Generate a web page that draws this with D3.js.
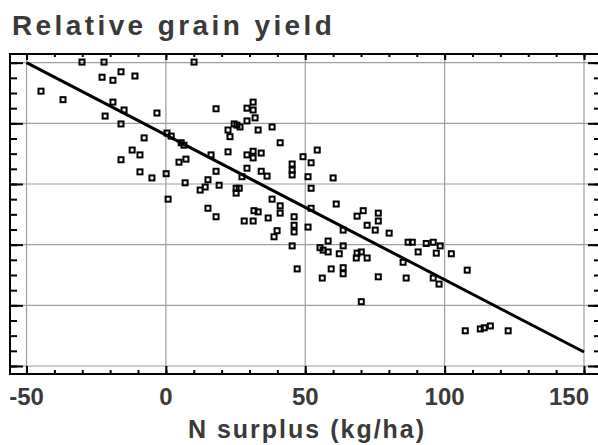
<!DOCTYPE html>
<html>
<head>
<meta charset="utf-8">
<script src="https://cdn.jsdelivr.net/npm/d3@7"></script>
<style>
  html, body { margin: 0; padding: 0; background: #fff; }
  svg { display: block; }
  text { font-family: "Liberation Sans", Arial, sans-serif; font-weight: bold; fill: #3a3a3a; }
</style>
</head>
<body>
<svg id="chart" width="598" height="445"></svg>
<script>
// ---- Data ----
const title = "Relative grain yield";
const xTitle = "N surplus (kg/ha)";
const xTickValues = [-50, 0, 50, 100, 150];
const xTickLabels = ["-50", "0", "50", "100", "150"];
const yGridValues = [50, 60, 70, 80, 90, 100];

const nSurplus = [
  -30.1, -22.2, 10.1, -22.9, -19.0, -16.1, -11.1, -44.8, -36.9, -19.0,
  -15.0, -21.8, -16.1, -3.2, -12.1, -9.3, -16.1, -9.3, 0.4, 1.9,
  5.5, 6.5, -7.8, -5.0, 0.1, 4.7, 7.2, 6.9, 0.8, 18.0,
  31.3, 29.1, 31.3, 32.0, 29.1, 24.5, 25.5, 26.6, 22.3, 23.0,
  33.1, 38.1, 41.0, 16.2, 22.3, 29.1, 31.3, 34.2, 31.3, 18.0,
  29.1, 34.2, 36.3, 27.3, 15.1, 19.1, 12.3, 14.1, 25.2, 26.3,
  25.2, 15.1, 18.0, 28.1, 31.3, 31.6, 45.3, 45.3, 45.3, 49.2,
  52.1, 54.3, 51.0, 52.1, 60.0, 38.1, 41.0, 41.0, 33.1, 36.7,
  46.0, 46.0, 46.0, 39.9, 38.8, 51.0, 52.1, 61.1, 68.6, 70.8,
  76.2, 76.2, 72.2, 75.1, 80.1, 63.6, 58.2, 45.3, 55.3, 56.4,
  58.2, 63.6, 62.2, 68.6, 70.1, 72.2, 68.3, 47.1, 59.3, 56.1,
  63.6, 63.6, 76.2, 70.1, 86.9, 88.4, 90.5, 93.4, 95.9, 98.4,
  97.0, 102.4, 85.1, 108.1, 86.2, 95.9, 98.0, 107.4, 112.8, 114.2,
  116.4, 122.8
];
const relYield = [
  100.1, 100.1, 100.1, 97.6, 97.1, 98.5, 97.8, 95.3, 93.9, 93.5,
  92.2, 91.2, 89.9, 91.7, 85.6, 84.8, 84.0, 82.0, 88.4, 87.9,
  86.8, 86.4, 87.6, 81.0, 81.7, 83.6, 84.1, 80.2, 77.5, 92.4,
  93.5, 92.5, 92.2, 90.9, 90.4, 89.9, 89.7, 89.4, 88.9, 87.8,
  88.9, 89.4, 86.8, 84.8, 85.3, 84.8, 85.4, 85.1, 84.3, 82.1,
  82.6, 82.1, 81.3, 81.2, 80.7, 79.8, 79.0, 79.5, 79.3, 79.3,
  78.5, 76.0, 74.6, 73.9, 73.9, 75.6, 83.3, 82.3, 81.5, 84.5,
  83.5, 85.6, 81.2, 79.3, 81.0, 77.5, 76.4, 75.2, 75.4, 74.4,
  74.6, 73.2, 72.1, 72.3, 71.3, 72.9, 76.0, 76.7, 74.7, 75.6,
  75.2, 73.9, 73.2, 72.4, 71.9, 72.4, 70.6, 69.8, 69.5, 69.1,
  68.8, 69.8, 68.5, 68.6, 68.8, 67.8, 67.8, 66.0, 66.0, 64.5,
  66.2, 65.2, 64.7, 60.6, 70.4, 70.4, 68.8, 70.2, 70.4, 69.8,
  68.6, 68.5, 67.1, 65.8, 64.5, 64.5, 63.5, 55.8, 56.1, 56.3,
  56.6, 55.8
];
// regression line end points
const fitX = [-50, 150];
const fitY = [100, 52.3];

// ---- Layout ----
const svg = d3.select("#chart");
const pLeft = 10, pRight = 599, pTop = 54, pBottom = 374;

const x = d3.scaleLinear().domain([-55.92, 155.38]).range([pLeft, pRight]);
const y = d3.scaleLinear().domain([48.68, 101.43]).range([pBottom, pTop]);

const xMinor = d3.range(-50, 151, 10);
const yMinor = d3.range(50, 100.1, 2.5);

// gridlines
svg.append("g").selectAll("line").data(xTickValues).join("line")
  .attr("x1", d => x(d)).attr("x2", d => x(d))
  .attr("y1", pTop).attr("y2", pBottom)
  .attr("stroke", "#9e9e9e").attr("stroke-width", 1.2);
svg.append("g").selectAll("line").data(yGridValues).join("line")
  .attr("x1", pLeft).attr("x2", pRight)
  .attr("y1", d => y(d)).attr("y2", d => y(d))
  .attr("stroke", "#9e9e9e").attr("stroke-width", 1.2);

function styleAxis(g) {
  g.select(".domain").remove();
  g.selectAll(".tick line").attr("stroke", "#000").attr("stroke-width", 2);
  g.selectAll(".tick text").remove();
}

// bottom ticks (pointing up)
svg.append("g").attr("transform", `translate(0,${pBottom})`)
  .call(d3.axisBottom(x).tickValues(xMinor).tickSize(-4)).call(styleAxis);
svg.append("g").attr("transform", `translate(0,${pBottom})`)
  .call(d3.axisBottom(x).tickValues(xTickValues).tickSize(-8)).call(styleAxis);
// top ticks (pointing down)
svg.append("g").attr("transform", `translate(0,${pTop})`)
  .call(d3.axisTop(x).tickValues(xMinor).tickSize(-3)).call(styleAxis);
svg.append("g").attr("transform", `translate(0,${pTop})`)
  .call(d3.axisTop(x).tickValues(xTickValues).tickSize(-6)).call(styleAxis);
// left ticks (pointing right)
svg.append("g").attr("transform", `translate(${pLeft},0)`)
  .call(d3.axisLeft(y).tickValues(yMinor).tickSize(-7)).call(styleAxis);
svg.append("g").attr("transform", `translate(${pLeft},0)`)
  .call(d3.axisLeft(y).tickValues(yGridValues).tickSize(-13)).call(styleAxis);
// right ticks (pointing left)
svg.append("g").attr("transform", `translate(${pRight},0)`)
  .call(d3.axisRight(y).tickValues(yMinor).tickSize(-5)).call(styleAxis);
svg.append("g").attr("transform", `translate(${pRight},0)`)
  .call(d3.axisRight(y).tickValues(yGridValues).tickSize(-11)).call(styleAxis);

// frame
svg.append("rect")
  .attr("x", pLeft).attr("y", pTop)
  .attr("width", pRight - pLeft).attr("height", pBottom - pTop)
  .attr("fill", "none").attr("stroke", "#000").attr("stroke-width", 2);

// regression line
svg.append("line")
  .attr("x1", x(fitX[0])).attr("y1", y(fitY[0]))
  .attr("x2", x(fitX[1])).attr("y2", y(fitY[1]))
  .attr("stroke", "#000").attr("stroke-width", 3);

// points
const pts = nSurplus.map((d, i) => ({ x: d, y: relYield[i] }));
const s = 5;
svg.append("g").selectAll("rect").data(pts).join("rect")
  .attr("x", d => x(d.x) - s / 2).attr("y", d => y(d.y) - s / 2)
  .attr("width", s).attr("height", s)
  .attr("fill", "none").attr("stroke", "#000").attr("stroke-width", 2);

// x tick labels
svg.append("g").selectAll("text").data(xTickValues).join("text")
  .attr("x", (d, i) => i === xTickValues.length - 1 ? 589 : x(d))
  .attr("y", 405)
  .attr("text-anchor", (d, i) => i === xTickValues.length - 1 ? "end" : "middle")
  .attr("font-size", 24)
  .text((d, i) => xTickLabels[i]);

// axis title
svg.append("text")
  .attr("x", 307).attr("y", 438)
  .attr("text-anchor", "middle")
  .attr("font-size", 25).attr("letter-spacing", 2)
  .text(xTitle);

// chart title
svg.append("text")
  .attr("x", 12).attr("y", 35)
  .attr("font-size", 28).attr("letter-spacing", 3.4)
  .text(title);
</script>
</body>
</html>
